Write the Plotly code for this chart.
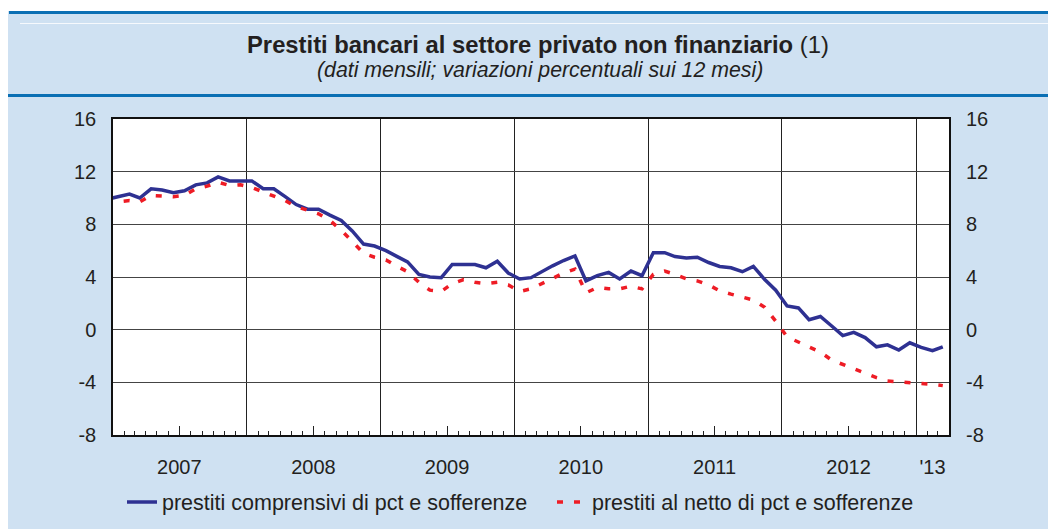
import pandas as pd
import plotly.graph_objects as go

# -----------------------------
# Data (monthly, % change over 12 months)
# -----------------------------
months = pd.date_range("2006-12-01", "2013-03-01", freq="MS") + pd.Timedelta(days=14)

prestiti_comprensivi = [
    9.9,
    10.1, 10.3, 10.0, 10.7, 10.6, 10.4, 10.55, 11.0, 11.15, 11.6, 11.3, 11.3,
    11.3, 10.7, 10.7, 10.1, 9.5, 9.15, 9.15, 8.7, 8.3, 7.5, 6.5, 6.35,
    6.0, 5.55, 5.15, 4.2, 4.0, 3.95, 4.95, 4.95, 4.95, 4.7, 5.2, 4.3,
    3.85, 3.95, 4.4, 4.85, 5.25, 5.6, 3.7, 4.1, 4.35, 3.85, 4.45, 4.1,
    5.85, 5.85, 5.55, 5.45, 5.5, 5.1, 4.8, 4.7, 4.4, 4.8, 3.8, 3.0,
    1.8, 1.65, 0.75, 1.0, 0.3, -0.45, -0.2, -0.6, -1.3, -1.15, -1.55, -1.0,
    -1.35, -1.6, -1.3,
]
prestiti_netto = [
    9.6,
    9.7, 9.8, 9.7, 10.2, 10.15, 10.1, 10.2, 10.7, 10.9, 11.2, 10.95, 11.0,
    10.8, 10.45, 10.15, 9.8, 9.35, 9.1, 8.8, 8.3, 7.55, 6.7, 5.8, 5.5,
    5.3, 4.8, 4.4, 3.6, 3.0, 2.9, 3.5, 3.8, 3.6, 3.5, 3.6, 3.4,
    2.9, 3.1, 3.5, 3.9, 4.3, 4.6, 2.8, 3.2, 3.1, 3.1, 3.3, 3.1,
    4.2, 4.45, 4.2, 3.85, 3.7, 3.4, 2.95, 2.7, 2.45, 2.25, 1.7, 0.65,
    -0.55, -0.95, -1.35, -1.7, -2.3, -2.65, -2.95, -3.35, -3.65, -3.9, -3.95, -4.0,
    -4.05, -4.15, -4.25,
]

year_label_pos = ["2007-07-01", "2008-07-01", "2009-07-01", "2010-07-01",
                  "2011-07-01", "2012-07-01", "2013-02-15"]
year_labels = ["2007", "2008", "2009", "2010", "2011", "2012", "'13"]
mid_year_ticks = ["2007-07-01", "2008-07-01", "2009-07-01", "2010-07-01",
                  "2011-07-01", "2012-07-01"]
y_ticks = [-8, -4, 0, 4, 8, 12, 16]
y_tick_text = ["-8", "-4", "0", "4", "8", "12", "16"]

x_range = ["2007-01-01", "2013-04-01"]
y_range = [-8, 16]

# -----------------------------
# Style
# -----------------------------
# page body has an 8px margin, so the figure is shrunk to fit the window
OFF = 8
W, H = 1056 - OFF, 529 - OFF
L, R, T, B = 113, 949, 119, 435   # plot area in screen pixels
BG = "#cfe1f2"
BLUE_BAR = "#0a6fb4"
FONT = "Liberation Sans, Arial, sans-serif"
TXT = "#231f20"


def px_x(p):
    return (p - L) / (R - L)


def px_y(p):
    return (B - p) / (B - T)


fig = go.Figure()

fig.add_trace(go.Scatter(
    x=months, y=prestiti_comprensivi, mode="lines",
    name="prestiti comprensivi di pct e sofferenze",
    line=dict(color="#2e3192", width=3.5), legend="legend",
))
fig.add_trace(go.Scatter(
    x=months, y=prestiti_netto, mode="lines",
    name="prestiti al netto di pct e sofferenze",
    line=dict(color="#ee1c25", width=3.5, dash="6px,11px"), legend="legend2",
))

# empty helper traces so the overlay axes get drawn
for xa, ya in [("x2", "y"), ("x3", "y"), ("x", "y2")]:
    fig.add_trace(go.Scatter(
        x=[months[1]], y=[0], mode="markers", marker=dict(opacity=0),
        xaxis=xa, yaxis=ya, showlegend=False, hoverinfo="skip",
    ))

axis_common = dict(range=x_range, type="date", fixedrange=True)
legend_common = dict(orientation="h", xanchor="left", y=px_y(502), yanchor="middle",
                     font=dict(size=21.5, color=TXT), bgcolor="rgba(0,0,0,0)")

fig.update_layout(
    width=W, height=H,
    margin=dict(l=L - OFF, r=1056 - R, t=T - OFF, b=529 - B, autoexpand=False),
    paper_bgcolor=BG,
    plot_bgcolor="white",
    font=dict(family=FONT, size=20, color=TXT),
    showlegend=True,
    legend=dict(**legend_common, x=px_x(122)),
    legend2=dict(**legend_common, x=px_x(552)),
    # year boundaries + monthly ticks
    xaxis=dict(
        **axis_common,
        dtick="M12", tick0="2007-01-01",
        showgrid=True, gridcolor="#222222", gridwidth=1.4,
        ticks="inside", ticklen=0, showticklabels=False,
        minor=dict(dtick="M1", tick0="2007-01-01", ticks="inside", ticklen=4,
                   tickcolor="#222222", tickwidth=1, showgrid=False),
        showline=True, linecolor="#111111", linewidth=1.5, mirror=True,
        zeroline=False,
    ),
    # longer mid-year ticks
    xaxis2=dict(
        **axis_common, overlaying="x", anchor="y", side="bottom",
        tickmode="array", tickvals=mid_year_ticks,
        ticks="inside", ticklen=9, tickcolor="#222222", tickwidth=1,
        showticklabels=False, showgrid=False, showline=False, zeroline=False,
    ),
    # year labels
    xaxis3=dict(
        **axis_common, overlaying="x", anchor="y", side="bottom",
        tickmode="array", tickvals=year_label_pos, ticktext=year_labels,
        ticks="", showgrid=False, showline=False, zeroline=False,
        ticklabelstandoff=18, tickfont=dict(size=20, color=TXT),
    ),
    yaxis=dict(
        range=y_range, tickmode="array", tickvals=y_ticks, ticktext=y_tick_text,
        showgrid=True, gridcolor="#444444", gridwidth=1.2,
        zeroline=False, ticks="", ticklabelstandoff=11,
        showline=True, linecolor="#111111", linewidth=1.5, mirror=True,
        tickfont=dict(size=20, color=TXT), fixedrange=True,
    ),
    yaxis2=dict(
        range=y_range, tickmode="array", tickvals=y_ticks, ticktext=y_tick_text,
        overlaying="y", side="right", anchor="x",
        showgrid=False, zeroline=False, ticks="", ticklabelstandoff=16,
        tickfont=dict(size=20, color=TXT), fixedrange=True,
    ),
)

# -----------------------------
# Frame decorations (title box, rules, white top edge)
# -----------------------------
shapes = [
    dict(type="rect", xref="paper", yref="paper", x0=px_x(-5), x1=px_x(1070),
         y0=px_y(11), y1=px_y(-5), fillcolor="white", line_width=0, layer="below"),
    # blue rules
    dict(type="line", xref="paper", yref="paper", x0=px_x(9), x1=px_x(1070),
         y0=px_y(12.5), y1=px_y(12.5), line=dict(color=BLUE_BAR, width=3)),
    dict(type="line", xref="paper", yref="paper", x0=px_x(8), x1=px_x(1070),
         y0=px_y(95.5), y1=px_y(95.5), line=dict(color=BLUE_BAR, width=3)),
    # faint white rule inside the title box
    dict(type="line", xref="paper", yref="paper", x0=px_x(20), x1=px_x(1070),
         y0=px_y(23.5), y1=px_y(23.5), line=dict(color="rgba(255,255,255,0.8)", width=1)),
]
fig.update_layout(shapes=shapes)

fig.add_annotation(
    text="<b>Prestiti bancari al settore privato non finanziario</b> (1)",
    xref="paper", yref="paper", x=px_x(538), y=px_y(44),
    xanchor="center", yanchor="middle", showarrow=False,
    font=dict(size=23.8, color=TXT, family=FONT),
)
fig.add_annotation(
    text="<i>(dati mensili; variazioni percentuali sui 12 mesi)</i>",
    xref="paper", yref="paper", x=px_x(540), y=px_y(70),
    xanchor="center", yanchor="middle", showarrow=False,
    font=dict(size=21.3, color=TXT, family=FONT),
)

fig.write_html("out.html")
